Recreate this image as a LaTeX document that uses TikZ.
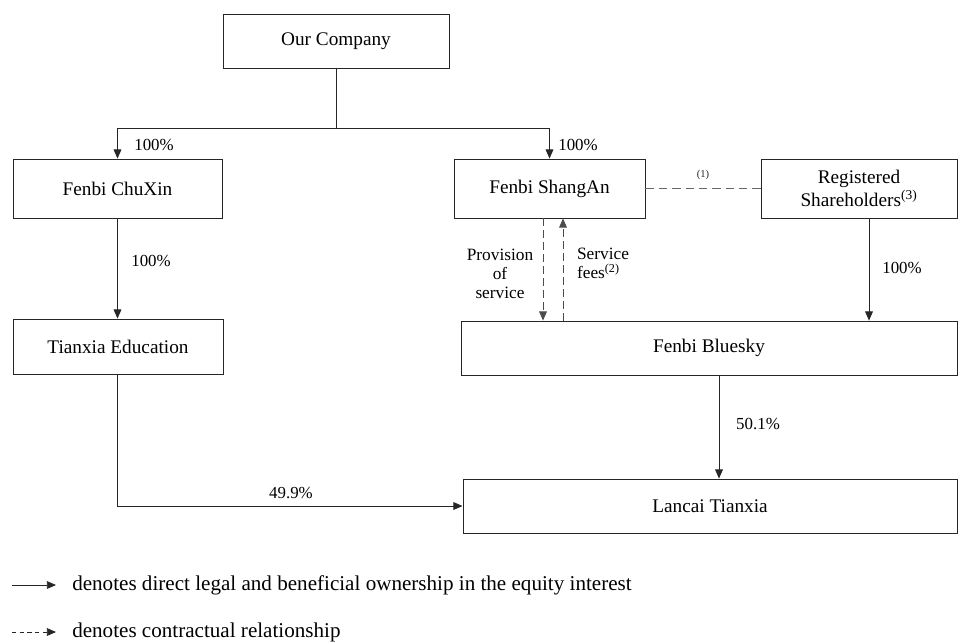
\documentclass[tikz,border=0pt]{standalone}
\usepackage{fontspec}
\setmainfont{Liberation Serif}
\usetikzlibrary{arrows.meta, positioning, calc}

\begin{document}
\begin{tikzpicture}[
  x=0.025cm, y=-0.025cm,
  every node/.style={font=\fontsize{13.7}{16}\selectfont},
  entity/.style={draw=black!85, line width=0.6pt, inner sep=0pt, minimum height=1.35cm, align=center},
  tall/.style={minimum height=1.475cm},
  pct/.style={font=\fontsize{12}{14}\selectfont, inner sep=1pt},
  note/.style={font=\fontsize{12.3}{13.6}\selectfont, inner sep=1pt, align=center},
  own/.style={-{Triangle[length=6.5pt, width=5.5pt]}, line width=0.6pt, black!85},
  contract/.style={-{Triangle[length=6.5pt, width=5.5pt]}, line width=0.6pt, black!70, dash pattern=on 5.5pt off 3pt}
]
  \clip (0,0) rectangle (958,641);

  % entities
  \node[entity, minimum width=5.65cm] (co) at (336,41) {Our Company};
  \node[entity, tall, minimum width=5.225cm] (chuxin) at (117.5,188.5) {Fenbi ChuXin};
  \node[entity, tall, minimum width=4.775cm] (shangan) at (549.5,188.5) {Fenbi ShangAn};
  \node[entity, tall, minimum width=4.9cm] (reg) at (859,188.5) {Registered\\Shareholders\textsuperscript{(3)}};
  \node[entity, minimum width=5.25cm, minimum height=1.375cm] (tianxia) at (118,346.5) {Tianxia Education};
  \node[entity, minimum width=12.4cm] (bluesky) at (709,348) {Fenbi Bluesky};
  \node[entity, minimum width=12.35cm] (lancai) at (710,506) {Lancai Tianxia};

  % branch points
  \coordinate (jl) at (117.5,128);
  \coordinate (jr) at (549.5,128);
  \coordinate (regout) at ([xshift=0.25cm]reg.south);
  \coordinate (provout) at ([xshift=-0.1625cm]shangan.south);
  \coordinate (feein) at ([xshift=0.3375cm]shangan.south);
  \coordinate (blueout) at ([xshift=0.25cm]bluesky.south);

  % ownership
  \draw[line width=0.6pt, black!85] (co.south) -- (co.south |- jl);
  \draw[line width=0.6pt, black!85] (jl) -- (jr);
  \draw[own] (jl) -- (jl |- chuxin.north);
  \draw[own] (jr) -- (jr |- shangan.north);
  \draw[own] (jl |- chuxin.south) -- (jl |- tianxia.north);
  \draw[own] (regout) -- (regout |- bluesky.north);
  \draw[own] (blueout) -- (blueout |- lancai.north);
  \draw[own] (jl |- tianxia.south) |- (lancai.west);

  % contracts
  \draw[line width=0.6pt, black!60, dash pattern=on 6pt off 3.5pt] (shangan.east) -- (reg.west)
    node[midway, above=6pt, text=black!85, font=\fontsize{7.5}{9}\selectfont, inner sep=0pt] (n1) {(1)};
  \draw[contract] (provout) -- (provout |- bluesky.north);
  \draw[contract] (feein |- bluesky.north) -- (feein);

  % labels
  \node[pct] (p1) at (154,145) {100\%};
  \node[pct] (p2) at (578,145) {100\%};
  \node[pct] (p3) at (151,261) {100\%};
  \node[pct] (p4) at (902,268) {100\%};
  \node[pct] (p5) at (758,424) {50.1\%};
  \node[pct] (p6) at (291,493) {49.9\%};
  \node[note] (prov) at (500,274) {Provision\\of\\service};
  \node[note, align=left] (fees) at (603,263) {Service\\fees\textsuperscript{(2)}};

  % legend
  \coordinate (legA) at (12,585);
  \coordinate (legB) at (12,632);
  \node[anchor=west, font=\fontsize{15}{18}\selectfont, inner sep=0pt] (legown) at (72,585) {denotes direct legal and beneficial ownership in the equity interest};
  \node[anchor=west, font=\fontsize{15}{18}\selectfont, inner sep=0pt] (legcon) at (72,632) {denotes contractual relationship};
  \draw[own] (legA) -- ([xshift=-0.4cm]legown.west);
  \draw[own, dash pattern=on 3pt off 2.5pt] (legB) -- ([xshift=-0.4cm]legcon.west);
\end{tikzpicture}
\end{document}
